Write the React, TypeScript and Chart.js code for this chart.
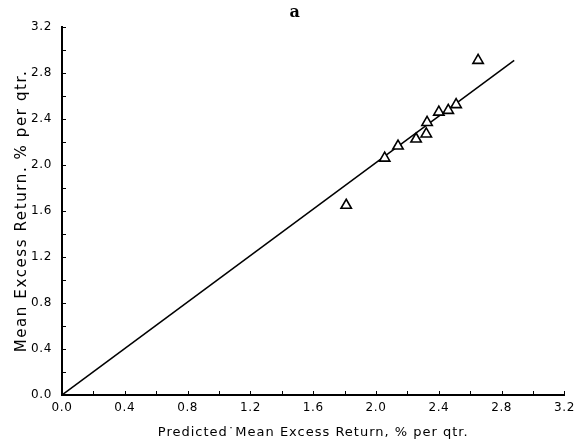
import React, { useEffect, useRef } from "react";
import { Chart, registerables } from "chart.js";

Chart.register(...registerables);

// Data
const predictedX = [1.81, 2.055, 2.14, 2.255, 2.32, 2.325, 2.4, 2.46, 2.51, 2.65];
const actualY = [1.65, 2.06, 2.165, 2.226, 2.27, 2.37, 2.46, 2.475, 2.525, 2.91];
const fitLineX = [0, 2.88];
const fitLineY = [0, 2.91];
const axisMin = 0;
const axisMax = 3.2;
const minorStep = 0.2;
const panelLabel = "a";
const xTitle = "Predicted˙Mean Excess Return, % per qtr.";
const yTitle = "Mean Excess Return. % per qtr.";

const FONT = "'DejaVu Sans', sans-serif";

function withSpacing(scale: any, method: string, spacing: string) {
  const orig = scale[method].bind(scale);
  scale[method] = (...args: any[]) => {
    const ctx = scale.ctx;
    ctx.save();
    ctx.letterSpacing = spacing;
    orig(...args);
    ctx.restore();
  };
}

const inwardTicks = {
  id: "inwardTicks",
  afterLayout(chart: any) {
    const xs = chart.scales.x;
    const ys = chart.scales.y;
    if (!xs._spaced) {
      withSpacing(xs, "drawTitle", "1px");
      withSpacing(xs, "drawLabels", "0.6px");
      xs._spaced = true;
    }
    if (!ys._spaced) {
      withSpacing(ys, "drawTitle", "1.6px");
      withSpacing(ys, "drawLabels", "0.6px");
      ys._spaced = true;
    }
  },
  afterDatasetsDraw(chart: any) {
    const { ctx } = chart;
    const xs = chart.scales.x;
    const ys = chart.scales.y;
    const len = 4;
    ctx.save();
    ctx.strokeStyle = "#000";
    ctx.lineWidth = 1;
    ctx.beginPath();
    for (let i = 1; i <= Math.round((axisMax - axisMin) / minorStep); i++) {
      const v = axisMin + i * minorStep;
      const px = Math.round(xs.getPixelForValue(v)) + 0.5;
      ctx.moveTo(px, xs.top);
      ctx.lineTo(px, xs.top - len);
      const py = Math.round(ys.getPixelForValue(v)) + 0.5;
      ctx.moveTo(ys.right, py);
      ctx.lineTo(ys.right + len, py);
    }
    ctx.stroke();
    const ca = chart.chartArea;
    ctx.fillStyle = "#000";
    ctx.font = "bold 16px 'DejaVu Serif', serif";
    ctx.textAlign = "center";
    ctx.textBaseline = "middle";
    ctx.fillText(panelLabel, ca.left + 0.463 * (ca.right - ca.left), 13);
    ctx.restore();
  },
};

export default function App() {
  const ref = useRef<HTMLCanvasElement | null>(null);
  useEffect(() => {
    if (!ref.current) return;
    const chart = new Chart(ref.current, {
      type: "scatter",
      data: {
        datasets: [
          {
            type: "scatter",
            data: predictedX.map((x, i) => ({ x, y: actualY[i] })),
            pointStyle: "triangle",
            pointRadius: 6,
            borderColor: "#000",
            backgroundColor: "rgba(255,255,255,1)",
            borderWidth: 1.6,
          },
          {
            type: "line",
            data: fitLineX.map((x, i) => ({ x, y: fitLineY[i] })),
            borderColor: "#000",
            borderWidth: 1.5,
            pointRadius: 0,
            fill: false,
          },
        ],
      },
      options: {
        animation: false,
        responsive: false,
        devicePixelRatio: 1,
        layout: { padding: { left: 0, right: 12, top: 27, bottom: 0 } },
        plugins: { legend: { display: false }, tooltip: { enabled: false }, title: { display: false } },
        scales: {
          x: {
            type: "linear",
            min: axisMin,
            max: axisMax,
            afterFit: (s: any) => {
              s.height = 49;
            },
            ticks: {
              stepSize: 0.4,
              color: "#000",
              padding: 6,
              font: { family: FONT, size: 12 },
              callback: (v: any) => Number(v).toFixed(1),
            },
            grid: { drawOnChartArea: false, drawTicks: false },
            border: { display: true, color: "#000", width: 2 },
            title: {
              display: true,
              text: xTitle,
              color: "#000",
              font: { family: FONT, size: 13 },
              padding: { top: 0, bottom: 4 },
            },
          },
          y: {
            type: "linear",
            min: axisMin,
            max: axisMax,
            afterFit: (s: any) => {
              s.width = 62;
            },
            ticks: {
              stepSize: 0.4,
              color: "#000",
              padding: 10,
              font: { family: FONT, size: 12 },
              callback: (v: any) => Number(v).toFixed(1),
            },
            grid: { drawOnChartArea: false, drawTicks: false },
            border: { display: true, color: "#000", width: 2 },
            title: {
              display: true,
              text: yTitle,
              color: "#000",
              font: { family: FONT, size: 15 },
              padding: { top: 13, bottom: 0 },
            },
          },
        },
      },
      plugins: [inwardTicks],
    });
    return () => chart.destroy();
  }, []);
  return (
    <div style={{ position: "absolute", left: 0, top: 0, width: 580, height: 444, background: "#fff" }}>
      <canvas ref={ref} width={580} height={444} style={{ width: 580, height: 444, display: "block" }} />
    </div>
  );
}
